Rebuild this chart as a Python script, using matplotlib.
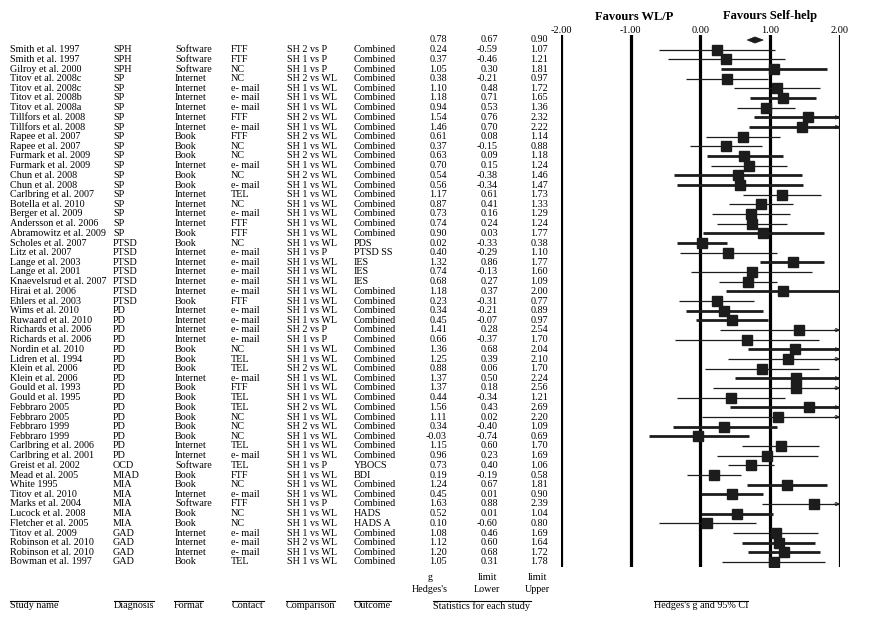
import matplotlib
matplotlib.use("Agg")
import matplotlib.pyplot as plt
from matplotlib.transforms import blended_transform_factory
from matplotlib.patches import Polygon
from matplotlib.lines import Line2D

# ---------------- data ----------------
study = ["Smith et al. 1997", "Smith et al. 1997", "Gilroy et al. 2000", "Titov et al. 2008c",
         "Titov et al. 2008c", "Titov et al. 2008b", "Titov et al. 2008a", "Tillfors et al. 2008",
         "Tillfors et al. 2008", "Rapee et al. 2007", "Rapee et al. 2007", "Furmark et al. 2009",
         "Furmark et al. 2009", "Chun et al. 2008", "Chun et al. 2008", "Carlbring et al. 2007",
         "Botella et al. 2010", "Berger et al. 2009", "Andersson et al. 2006", "Abramowitz et al. 2009",
         "Scholes et al. 2007", "Litz et al. 2007", "Lange et al. 2003", "Lange et al. 2001",
         "Knaevelsrud et al. 2007", "Hirai et al. 2006", "Ehlers et al. 2003", "Wims et al. 2010",
         "Ruwaard et al. 2010", "Richards et al. 2006", "Richards et al. 2006", "Nordin et al. 2010",
         "Lidren et al. 1994", "Klein et al. 2006", "Klein et al. 2006", "Gould et al. 1993",
         "Gould et al. 1995", "Febbraro 2005", "Febbraro 2005", "Febbraro 1999", "Febbraro 1999",
         "Carlbring et al. 2006", "Carlbring et al. 2001", "Greist et al. 2002", "Mead et al. 2005",
         "White 1995", "Titov et al. 2010", "Marks et al. 2004", "Lucock et al. 2008",
         "Fletcher et al. 2005", "Titov et al. 2009", "Robinson et al. 2010", "Robinson et al. 2010",
         "Bowman et al. 1997"]
diagnosis = ["SPH"] * 3 + ["SP"] * 17 + ["PTSD"] * 7 + ["PD"] * 16 + ["OCD", "MIAD"] + ["MIA"] * 5 + ["GAD"] * 4
fmt = ["Software", "Software", "Software", "Internet", "Internet", "Internet", "Internet", "Internet",
       "Internet", "Book", "Book", "Book", "Internet", "Book", "Book", "Internet", "Internet", "Internet",
       "Internet", "Book", "Book", "Internet", "Internet", "Internet", "Internet", "Internet", "Book",
       "Internet", "Internet", "Internet", "Internet", "Book", "Book", "Book", "Internet", "Book", "Book",
       "Book", "Book", "Book", "Book", "Internet", "Internet", "Software", "Book", "Book", "Internet",
       "Software", "Book", "Book", "Internet", "Internet", "Internet", "Book"]
contact = ["FTF", "FTF", "NC", "NC", "e- mail", "e- mail", "e- mail", "FTF", "e- mail", "FTF", "NC", "NC",
           "e- mail", "NC", "e- mail", "TEL", "NC", "e- mail", "FTF", "FTF", "NC", "e- mail", "e- mail",
           "e- mail", "e- mail", "e- mail", "FTF", "e- mail", "e- mail", "e- mail", "e- mail", "NC", "TEL",
           "TEL", "e- mail", "FTF", "TEL", "TEL", "NC", "NC", "NC", "TEL", "e- mail", "TEL", "FTF", "NC",
           "e- mail", "FTF", "NC", "NC", "e- mail", "e- mail", "e- mail", "TEL"]
comparison = ["SH 2 vs P", "SH 1 vs P", "SH 1 vs P", "SH 2 vs WL", "SH 1 vs WL", "SH 1 vs WL", "SH 1 vs WL",
              "SH 2 vs WL", "SH 1 vs WL", "SH 2 vs WL", "SH 1 vs WL", "SH 2 vs WL", "SH 1 vs WL",
              "SH 2 vs WL", "SH 1 vs WL", "SH 1 vs WL", "SH 1 vs WL", "SH 1 vs WL", "SH 1 vs WL",
              "SH 1 vs WL", "SH 1 vs WL", "SH 1 vs P", "SH 1 vs WL", "SH 1 vs WL", "SH 1 vs WL",
              "SH 1 vs WL", "SH 1 vs WL", "SH 1 vs WL", "SH 1 vs WL", "SH 2 vs P", "SH 1 vs P",
              "SH 1 vs WL", "SH 1 vs WL", "SH 2 vs WL", "SH 1 vs WL", "SH 1 vs WL", "SH 1 vs WL",
              "SH 2 vs WL", "SH 1 vs WL", "SH 2 vs WL", "SH 1 vs WL", "SH 1 vs WL", "SH 1 vs WL",
              "SH 1 vs P", "SH 1 vs WL", "SH 1 vs WL", "SH 1 vs WL", "SH 1 vs P", "SH 1 vs WL",
              "SH 1 vs WL", "SH 1 vs WL", "SH 2 vs WL", "SH 1 vs WL", "SH 1 vs WL"]
outcome = ["Combined"] * 20 + ["PDS", "PTSD SS", "IES", "IES", "IES"] + ["Combined"] * 18 + \
          ["YBOCS", "BDI", "Combined", "Combined", "Combined", "HADS", "HADS A"] + ["Combined"] * 4
hedges_g = [0.24, 0.37, 1.05, 0.38, 1.10, 1.18, 0.94, 1.54, 1.46, 0.61, 0.37, 0.63, 0.70, 0.54, 0.56,
            1.17, 0.87, 0.73, 0.74, 0.90, 0.02, 0.40, 1.32, 0.74, 0.68, 1.18, 0.23, 0.34, 0.45, 1.41,
            0.66, 1.36, 1.25, 0.88, 1.37, 1.37, 0.44, 1.56, 1.11, 0.34, -0.03, 1.15, 0.96, 0.73, 0.19,
            1.24, 0.45, 1.63, 0.52, 0.10, 1.08, 1.12, 1.20, 1.05]
lower = [-0.59, -0.46, 0.30, -0.21, 0.48, 0.71, 0.53, 0.76, 0.70, 0.08, -0.15, 0.09, 0.15, -0.38, -0.34,
         0.61, 0.41, 0.16, 0.24, 0.03, -0.33, -0.29, 0.86, -0.13, 0.27, 0.37, -0.31, -0.21, -0.07, 0.28,
         -0.37, 0.68, 0.39, 0.06, 0.50, 0.18, -0.34, 0.43, 0.02, -0.40, -0.74, 0.60, 0.23, 0.40, -0.19,
         0.67, 0.01, 0.88, 0.01, -0.60, 0.46, 0.60, 0.68, 0.31]
upper = [1.07, 1.21, 1.81, 0.97, 1.72, 1.65, 1.36, 2.32, 2.22, 1.14, 0.88, 1.18, 1.24, 1.46, 1.47,
         1.73, 1.33, 1.29, 1.24, 1.77, 0.38, 1.10, 1.77, 1.60, 1.09, 2.00, 0.77, 0.89, 0.97, 2.54,
         1.70, 2.04, 2.10, 1.70, 2.24, 2.56, 1.21, 2.69, 2.20, 1.09, 0.69, 1.70, 1.69, 1.06, 0.58,
         1.81, 0.90, 2.39, 1.04, 0.80, 1.69, 1.64, 1.72, 1.78]
heavy = [0, 0, 1, 0, 0, 1, 0, 1, 1, 0, 0, 1, 0, 1, 1, 0, 0, 0, 0, 1, 1, 0, 1, 0, 0, 1, 0, 1, 1, 0,
         0, 1, 0, 0, 1, 0, 0, 1, 0, 1, 1, 0, 0, 0, 0, 1, 1, 0, 1, 0, 0, 1, 1, 0]
summary = (0.78, 0.67, 0.90)
ticks = [-2.00, -1.00, 0.00, 1.00, 2.00]

# ---------------- layout ----------------
plt.rcParams["font.family"] = ["Liberation Serif", "DejaVu Serif"]
W, H = 870, 617
fig = plt.figure(figsize=(W / 100, H / 100), dpi=100)
fig.patch.set_facecolor("white")

n = len(study)
row0_px, rowN_px = 40.0, 562.0
row_h = (rowN_px - row0_px) / n
top_px, bot_px = 35.0, 567.0
x_left, x_right = 561.0, 840.0


def px_to_row(p):
    return (p - row0_px) / row_h


ax = fig.add_axes([x_left / W, 1 - bot_px / H, (x_right - x_left) / W, (bot_px - top_px) / H])
ax.set_xlim(ticks[0], ticks[-1])
ax.set_ylim(px_to_row(bot_px), px_to_row(top_px))
ax.patch.set_alpha(0)
for s in ax.spines.values():
    s.set_visible(False)
ax.set_yticks([])
ax.set_xticks(ticks)
ax.set_xticklabels([f"{t:.2f}" for t in ticks])
ax.xaxis.tick_top()
ax.tick_params(axis="x", length=0, pad=0, labelsize=7.5)
for t in ticks:
    ax.axvline(t, color="black", lw=2.3, zorder=1)

ink = "#1c1c1c"
xmax = ticks[-1]
for i in range(n):
    y = i + 1
    lw = 2.0 if heavy[i] else 0.9
    hi = min(upper[i], xmax)
    ax.plot([lower[i], hi], [y, y], color=ink, lw=lw, solid_capstyle="butt", zorder=2)
    if upper[i] > xmax:
        ax.annotate("", xy=(xmax, y), xytext=(xmax - 0.08, y),
                    arrowprops=dict(arrowstyle="->", lw=0.7, color=ink, shrinkA=0, shrinkB=0,
                                    mutation_scale=6), zorder=2)
    ax.plot(hedges_g[i], y, "s", ms=7.5, color=ink, zorder=3)

sg, slo, shi = summary
ax.add_patch(Polygon([(slo, 0), (sg, -0.32), (shi, 0), (sg, 0.32)], closed=True,
                     facecolor=ink, edgecolor=ink, lw=0.5, zorder=3))

# ---------------- text columns ----------------
tr = blended_transform_factory(fig.transFigure, ax.transData)
fs = 7.3
cols = [(10, study), (113, diagnosis), (175, fmt), (231, contact), (287, comparison), (354, outcome)]
for xp, vals in cols:
    for i, v in enumerate(vals):
        fig.text(xp / W, i + 1, v, transform=tr, fontsize=fs, ha="left", va="center")

num_cols = [(447, hedges_g, sg), (498, lower, slo), (548, upper, shi)]
for xp, vals, sv in num_cols:
    fig.text(xp / W, 0, f"{sv:.2f}", transform=tr, fontsize=fs, ha="right", va="center")
    for i, v in enumerate(vals):
        fig.text(xp / W, i + 1, f"{v:.2f}", transform=tr, fontsize=fs, ha="right", va="center")

# favours labels
fig.text(634 / W, 1 - 17 / H, "Favours WL/P", fontsize=9, fontweight="bold", ha="center", va="center")
fig.text(770 / W, 1 - 16 / H, "Favours Self-help", fontsize=9, fontweight="bold", ha="center", va="center")

# sub headers
for xp, a, b in [(430, "g", "Hedges's"), (487, "limit", "Lower"), (537, "limit", "Upper")]:
    fig.text(xp / W, 1 - 578 / H, a, fontsize=fs, ha="center", va="center")
    fig.text(xp / W, 1 - 589 / H, b, fontsize=fs, ha="center", va="center")

# headers with rule lines
headers = [(10, "Study name", "left"), (114, "Diagnosis", "left"), (174, "Format", "left"),
           (232, "Contact", "left"), (286, "Comparison", "left"), (354, "Outcome", "left"),
           (482, "Statistics for each study", "center"), (701, "Hedges's g and 95% CI", "center")]
htexts = []
for xp, label, ha in headers:
    htexts.append(fig.text(xp / W, 1 - 606 / H, label, fontsize=fs, ha=ha, va="center"))

fig.canvas.draw()
renderer = fig.canvas.get_renderer()
for t in htexts:
    bb = t.get_window_extent(renderer)
    yl = 1 - 600.5 / H
    fig.add_artist(Line2D([bb.x0 / W, bb.x1 / W], [yl, yl], color="black", lw=0.8,
                          transform=fig.transFigure))

fig.savefig("out.png", dpi=100, facecolor="white")
